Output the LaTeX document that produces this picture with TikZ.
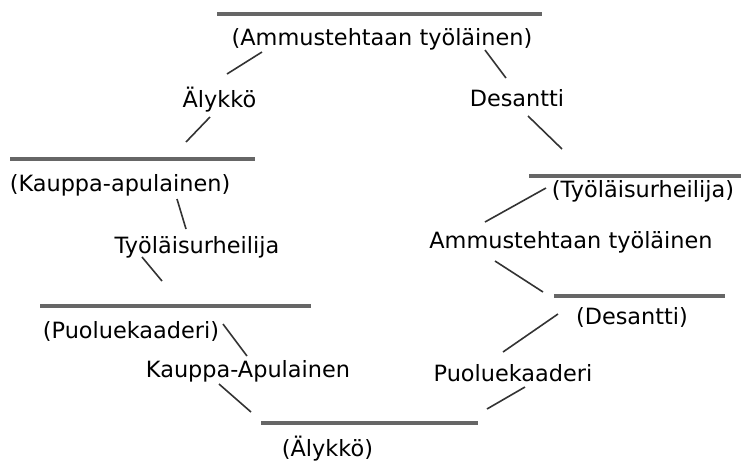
\documentclass[tikz,border=0pt]{standalone}
\usepackage{fontspec}
\setmainfont{DejaVu Sans}
\tikzset{
    bar/.style={line width=1.6pt, black!60},
    tie/.style={line width=0.8pt, black!80},
    word/.style={inner sep=0pt, anchor=base, font=\fontsize{11.2}{13}\selectfont}
}
\begin{document}
\begin{tikzpicture}[x=0.5pt, y=-0.5pt]
    \useasboundingbox (0,0) rectangle (741,461);
    % the bars
    \draw[bar]
        (217,14) -- (542,14)
        (10,159) -- (255,159)
        (529,176) -- (741,176)
        (40,306) -- (311,306)
        (554,296) -- (725,296)
        (261,423) -- (478,423);
    % the short strokes
    \draw[tie]
        (262,52) -- (227,74)
        (210,117) -- (186,142)
        (485,50) -- (506,78)
        (528,116) -- (562,149)
        (177,199) -- (186,229)
        (142,257) -- (162,281)
        (546,188) -- (485,222)
        (495,261) -- (543,292)
        (223,324) -- (247,356)
        (219,384) -- (251,412)
        (558,314) -- (503,352)
        (525,387) -- (487,409);
    % the names
    \path[every node/.style=word]
        (382,45) node (ammusP) {(Ammustehtaan työläinen)}
        (219.5,107) node (alykko) {Älykkö}
        (517,106) node (desantti) {Desantti}
        (120,191) node (kauppaP) {(Kauppa-apulainen)}
        (643,197) node (urheiluP) {(Työläisurheilija)}
        (197,253) node (urheilu) {Työläisurheilija}
        (571,248) node (ammus) {Ammustehtaan työläinen}
        (131,338) node (puolueP) {(Puoluekaaderi)}
        (632,324) node (desanttiP) {(Desantti)}
        (248,377) node (kauppa) {Kauppa-Apulainen}
        (513,381) node (puolue) {Puoluekaaderi}
        (327.5,456) node (alykkoP) {(Älykkö)};
\end{tikzpicture}
\end{document}
